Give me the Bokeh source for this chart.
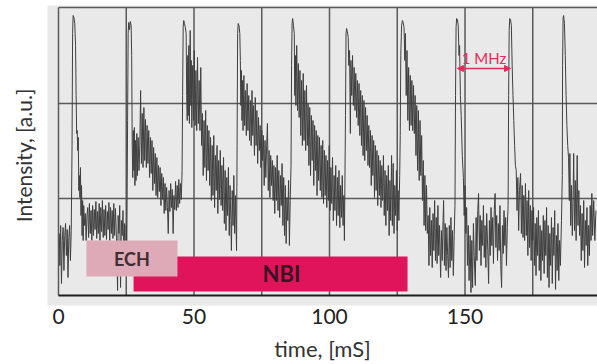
from bokeh.plotting import figure
from bokeh.models import Range1d, FixedTicker, Arrow, NormalHead
from bokeh.core.properties import value
from bokeh.embed import file_html
from bokeh.resources import INLINE

# ---- trace: (time [ms], intensity [a.u.]) per pulse ----
pulse1 = [(0.3,62),(0.5,30),(0.8,70),(1.1,12),(1.4,55),(1.7,68),(2.0,25),(2.3,60),(2.6,72),(2.9,40),
          (3.2,66),(3.5,18),(3.8,58),(4.1,70),(4.4,35),(4.7,65),(5.0,150),(5.2,262),(5.4,280),(5.7,278),
          (6.0,272),(6.3,250),(6.5,200),(6.7,162),(6.9,165),(7.1,145),(7.3,158),(7.5,105),(7.7,120),(7.9,98),
          (8.1,128),(8.3,80),(8.5,110),(8.7,60),(8.9,95),(9.1,55),(9.3,90),(9.6,70),(9.9,82),(10.2,55),
          (10.5,80),(10.8,88),(11.1,58),(11.4,92),(11.7,62),(12.0,85),(12.3,55),(12.6,90),(12.9,60),(13.2,86),
          (13.5,66),(13.8,94),(14.1,57),(14.4,84),(14.7,62),(15.0,92),(15.3,55),(15.6,88),(15.9,64),(16.2,95),
          (16.5,58),(16.8,86),(17.1,60),(17.4,90),(17.7,56),(18.0,84),(18.3,66),(18.6,93),(18.9,55),(19.2,88),
          (19.5,62),(19.8,85),(20.1,57),(20.4,92),(20.7,60),(21.0,87),(21.4,58),(21.8,5),(22.0,80),(22.3,62),
          (22.6,90),(22.9,8),(23.2,75),(23.5,60),(23.8,85),(24.1,30),(24.4,72),(24.7,20),(25.0,70),(25.2,45)]
pulse2 = [(25.5,175),(25.7,262),(25.9,273),(26.2,266),(26.5,274),(26.8,270),(27.0,240),(27.2,150),(27.4,118),(27.6,165),
          (27.8,125),(28.0,168),(28.2,110),(28.4,155),(28.6,115),(28.9,162),(29.1,120),(29.4,158),(29.7,125),(30.0,150),
          (30.3,205),(30.6,132),(30.9,182),(31.2,128),(31.5,188),(31.8,135),(32.1,176),(32.4,128),(32.7,170),(33.0,132),
          (33.3,165),(33.6,118),(33.9,158),(34.2,122),(34.5,155),(34.8,105),(35.1,148),(35.4,112),(35.7,142),(36.0,100),
          (36.3,138),(36.6,98),(36.9,130),(37.2,104),(37.5,128),(37.8,90),(38.1,122),(38.4,96),(38.7,118),(39.0,82),
          (39.3,112),(39.6,85),(39.9,108),(40.2,88),(40.5,62),(40.8,105),(41.1,84),(41.4,112),(41.7,88),(42.0,106),
          (42.3,62),(42.6,100),(42.9,86),(43.2,114),(43.5,85),(43.8,110),(44.1,88),(44.4,116),(44.7,92),(45.0,112),
          (45.3,96),(45.6,125)]
pulse3 = [(45.8,200),(46.0,268),(46.2,275),(46.5,272),(46.8,268),(47.1,262),(47.3,200),(47.5,175),(47.7,240),(47.9,180),
          (48.1,250),(48.3,172),(48.6,265),(48.8,190),(49.0,235),(49.2,168),(49.5,230),(49.8,175),(50.1,245),(50.4,170),
          (50.7,225),(51.0,165),(51.3,238),(51.6,172),(51.9,215),(52.2,165),(52.5,228),(52.8,150),(53.1,182),(53.4,120),
          (53.7,175),(54.0,128),(54.3,185),(54.6,115),(54.9,170),(55.2,125),(55.5,165),(55.8,110),(56.1,158),(56.4,95),
          (56.7,150),(57.0,100),(57.3,160),(57.6,88),(57.9,140),(58.2,105),(58.5,150),(58.8,82),(59.1,135),(59.4,96),
          (59.7,145),(60.0,90),(60.3,130),(60.6,85),(60.9,138),(61.2,72),(61.5,125),(61.8,65),(62.1,118),(62.4,80),
          (62.7,128),(63.0,60),(63.3,110),(63.6,75),(63.8,45),(64.1,105),(64.4,70),(64.7,120),(65.0,62),(65.3,100),
          (65.7,45)]
pulse4 = [(65.9,150),(66.1,262),(66.3,272),(66.6,270),(66.9,262),(67.1,235),(67.3,190),(67.5,225),(67.7,175),(67.9,215),
          (68.1,165),(68.4,220),(68.7,170),(69.0,205),(69.3,160),(69.6,212),(69.9,165),(70.2,200),(70.5,155),(70.8,195),
          (71.1,150),(71.4,205),(71.7,160),(72.0,190),(72.3,140),(72.6,198),(72.9,150),(73.2,185),(73.5,132),(73.8,178),
          (74.1,145),(74.4,170),(74.7,128),(75.0,165),(75.3,135),(75.6,160),(75.9,110),(76.2,155),(76.5,118),(76.8,150),
          (77.1,172),(77.4,105),(77.7,145),(78.0,98),(78.3,140),(78.6,110),(78.9,135),(79.2,95),(79.5,130),(79.8,82),
          (80.1,128),(80.4,95),(80.7,140),(81.0,85),(81.3,125),(81.6,78),(81.9,120),(82.2,90),(82.5,132),(82.8,70),
          (83.1,118),(83.4,60),(83.7,110),(84.0,52),(84.3,98),(84.6,75),(84.9,115),(85.2,50),(85.5,95),(85.8,130)]
pulse5 = [(86.0,230),(86.2,272),(86.4,277),(86.7,270),(87.0,262),(87.2,200),(87.4,240),(87.6,190),(87.9,250),(88.2,185),
          (88.5,232),(88.8,178),(89.1,225),(89.4,160),(89.7,215),(90.0,150),(90.3,222),(90.6,155),(90.9,205),(91.2,145),
          (91.5,210),(91.8,150),(92.1,192),(92.4,130),(92.7,188),(93.0,120),(93.3,180),(93.6,135),(93.9,175),(94.2,110),
          (94.5,170),(94.8,125),(95.1,165),(95.4,100),(95.7,160),(96.0,115),(96.3,158),(96.6,105),(96.9,150),(97.2,98),
          (97.5,155),(97.8,92),(98.1,145),(98.4,100),(98.7,140),(99.0,88),(99.3,135),(99.6,95),(99.9,150),(100.2,85),
          (100.5,128),(100.8,92),(101.1,138),(101.4,75),(101.7,120),(102.0,85),(102.3,130),(102.6,70),(102.9,118),(103.2,80),
          (103.5,125),(103.8,68),(104.1,110),(104.4,78),(104.7,120),(105.0,70),(105.3,100),(105.5,55)]
pulse6 = [(105.9,180),(106.1,262),(106.3,267),(106.6,264),(106.9,258),(107.1,230),(107.4,245),(107.7,162),(107.9,235),(108.2,200),
          (108.5,240),(108.8,190),(109.1,228),(109.4,185),(109.7,222),(110.0,178),(110.3,215),(110.6,170),(110.9,212),(111.2,160),
          (111.5,205),(111.8,150),(112.1,200),(112.4,140),(112.7,195),(113.0,135),(113.3,188),(113.6,145),(113.9,180),(114.2,130),
          (114.5,170),(114.8,128),(115.1,165),(115.4,110),(115.7,160),(116.0,120),(116.3,155),(116.6,98),(116.9,150),(117.2,105),
          (117.5,145),(117.8,90),(118.1,140),(118.4,100),(118.7,135),(119.0,88),(119.3,130),(119.6,95),(119.9,140),(120.2,80),
          (120.5,125),(120.8,70),(121.1,120),(121.4,85),(121.7,130),(122.0,60),(122.3,115),(122.6,75),(122.9,140),(123.2,70),
          (123.5,132),(123.8,62),(124.1,110),(124.4,80),(124.7,125),(125.0,65),(125.3,105),(125.6,75),(125.9,120),(126.1,160)]
pulse7 = [(126.3,240),(126.6,270),(126.9,275),(127.2,273),(127.5,268),(127.8,235),(128.0,262),(128.3,200),(128.6,245),(128.9,175),
          (129.2,228),(129.5,165),(129.8,220),(130.1,170),(130.4,215),(130.7,165),(131.0,210),(131.3,162),(131.6,200),(131.9,140),
          (132.2,190),(132.5,125),(132.8,185),(133.1,115),(133.4,175),(133.7,120),(134.0,160),(134.3,95),(134.6,135),(134.9,70),
          (135.2,120),(135.5,65),(135.8,110),(136.1,62),(136.4,80),(136.7,30),(137.0,88),(137.3,40),(137.6,75),(137.9,28),
          (138.2,82),(138.5,45),(138.8,95),(139.1,35),(139.4,78),(139.7,32),(140.0,90),(140.3,40),(140.6,70),(141.0,18),
          (141.3,65),(141.6,35),(141.9,75),(142.1,95),(142.4,30),(142.7,72),(143.0,25),(143.3,68),(143.6,40),(143.9,18),
          (144.2,70),(144.5,28),(144.8,78),(145.1,35),(145.4,65),(145.7,20),(146.0,60),(146.3,90)]
pulse8 = [(146.5,200),(146.7,268),(146.9,277),(147.2,276),(147.5,270),(147.8,240),(148.0,250),(148.3,200),(148.6,180),(149.0,140),
          (149.4,118),(149.7,80),(150.0,110),(150.3,62),(150.6,88),(150.9,30),(151.2,70),(151.5,15),(151.9,60),(152.2,3),
          (152.5,55),(152.8,8),(153.1,72),(153.4,40),(153.8,10),(154.1,78),(154.4,35),(154.7,85),(155.0,102),(155.3,45),
          (155.6,80),(155.9,30),(156.2,75),(156.5,50),(156.8,90),(157.1,38),(157.4,70),(157.7,28),(158.0,82),(158.4,45),
          (158.7,12),(159.0,75),(159.3,40),(159.6,88),(159.9,50),(160.2,78),(160.5,32),(160.8,85),(161.1,102),(161.4,48),
          (161.7,80),(162.0,35),(162.3,72),(162.6,45),(162.9,90),(163.2,30),(163.5,8),(163.8,70),(164.1,42),(164.4,85),
          (164.7,50),(165.0,78),(165.3,30),(165.6,68),(165.9,90)]
pulse9 = [(166.1,200),(166.3,265),(166.5,277),(166.8,276),(167.1,270),(167.4,230),(167.7,200),(168.0,175),(168.3,150),(168.6,130),
          (168.9,125),(169.2,85),(169.5,118),(169.8,65),(170.1,105),(170.5,122),(170.8,62),(171.1,110),(171.4,58),(171.7,100),
          (172.0,55),(172.3,112),(172.6,60),(172.9,95),(173.2,40),(173.5,105),(173.8,48),(174.1,90),(174.4,35),(174.7,85),
          (175.0,55),(175.3,88),(175.6,30),(175.9,72),(176.2,20),(176.5,78),(176.8,40),(177.1,85),(177.4,25),(177.7,70),
          (178.0,15),(178.3,65),(178.6,35),(178.9,80),(179.2,22),(179.5,75),(179.8,40),(180.1,88),(180.4,18),(180.7,70),
          (181.0,8),(181.3,62),(181.6,30),(181.9,78),(182.2,12),(182.5,68),(182.8,40),(183.1,85),(183.4,6),(183.7,60),
          (184.0,25),(184.3,72),(184.6,15),(184.9,55),(185.2,30),(185.6,75),(185.9,120)]
pulse10 = [(186.0,230),(186.2,278),(186.4,280),(186.7,272),(187.0,240),(187.3,200),(187.6,170),(187.9,150),(188.2,138),(188.5,95),
           (188.7,142),(189.0,70),(189.3,110),(189.6,60),(189.9,100),(190.1,142),(190.4,65),(190.7,115),(191.0,55),(191.4,140),
           (191.7,70),(192.0,105),(192.3,60),(192.6,90),(192.9,35),(193.2,82),(193.5,45),(193.8,95),(194.1,28),(194.4,75),
           (194.7,50),(195.0,88),(195.3,30),(195.6,70),(195.9,40),(196.2,90),(196.5,55),(196.8,102),(197.1,60),(197.5,95),
           (197.9,55),(198.3,85)]

x_ticks = [0, 50, 100, 150]
x_grid = [0, 25, 50, 75, 100, 125, 150, 175]
y_grid = [97, 192, 288]
y_base = 0
ech_period = (10.3, 43.9)
nbi_period = (27.7, 128.8)
mhz_period = (147.2, 166.8)

pulses = [pulse1, pulse2, pulse3, pulse4, pulse5, pulse6, pulse7, pulse8, pulse9, pulse10]
time_ms = [pt[0] for pl in pulses for pt in pl]
intensity = [pt[1] for pl in pulses for pt in pl]

FONT = "Lato"

p = figure(width=597, height=364, output_backend="svg", toolbar_location=None,
           x_range=Range1d(-4.06, 198.89), y_range=Range1d(-10, 290),
           min_border_left=47, min_border_right=0, min_border_top=5, min_border_bottom=59,
           background_fill_color="#e9e9e9", border_fill_color="white", outline_line_color=None)
p.grid.visible = False

# axes
xa = p.xaxis[0]
xa.ticker = FixedTicker(ticks=x_ticks, minor_ticks=[])
xa.axis_line_color = None
xa.major_tick_line_color = None
xa.minor_tick_line_color = None
xa.major_tick_out = 0
xa.major_tick_in = 0
xa.major_label_standoff = 3
xa.major_label_text_font = FONT
xa.major_label_text_font_size = "21px"
xa.major_label_text_color = "#222222"
xa.axis_label = "time, [mS]"
xa.axis_label_standoff = 8
xa.axis_label_text_font = FONT
xa.axis_label_text_font_size = "22px"
xa.axis_label_text_font_style = "normal"
xa.axis_label_text_color = "#333333"

ya = p.yaxis[0]
ya.ticker = FixedTicker(ticks=[], minor_ticks=[])
ya.axis_line_color = None
ya.major_tick_line_color = None
ya.minor_tick_line_color = None
ya.major_tick_out = 0
ya.major_tick_in = 0
ya.major_label_standoff = 0
ya.axis_label = "Intensity, [a.u.]"
ya.axis_label_standoff = 12
ya.axis_label_text_font = FONT
ya.axis_label_text_font_size = "21px"
ya.axis_label_text_font_style = "normal"
ya.axis_label_text_color = "#333333"

# oscilloscope grid
top = y_grid[-1]
p.segment(x0=x_grid, y0=[y_base] * len(x_grid), x1=x_grid, y1=[top] * len(x_grid),
          line_color="#5a5a5a", line_width=1.5)
p.segment(x0=[0] * len(y_grid), y0=y_grid, x1=[205] * len(y_grid), y1=y_grid,
          line_color="#5a5a5a", line_width=1.5)
p.segment(x0=[0], y0=[y_base], x1=[205], y1=[y_base], line_color="#1e1e1e", line_width=2)

# trace
p.line(time_ms, intensity, line_color="#3f3f3f", line_width=1.0)

# heating periods
p.quad(left=[nbi_period[0]], right=[nbi_period[1]], bottom=[4], top=[39],
       fill_color="#e0145a", line_color=None)
p.quad(left=[ech_period[0]], right=[ech_period[1]], bottom=[19], top=[55],
       fill_color="#deaab7", line_color=None)
p.text(x=[27.1], y=[37], text=["ECH"], text_align="center", text_baseline="middle",
       text_font=value(FONT), text_font_style="bold", text_font_size="18px", text_color="#3e2d33")
p.text(x=[82.3], y=[22], text=["NBI"], text_align="center", text_baseline="middle",
       text_font=value(FONT), text_font_style="bold", text_font_size="22px", text_color="#3a1422")

# 1 MHz marker
red = "#e8285a"
p.add_layout(Arrow(start=NormalHead(size=6, fill_color=red, line_color=red),
                   end=NormalHead(size=6, fill_color=red, line_color=red),
                   x_start=mhz_period[0], y_start=227, x_end=mhz_period[1], y_end=227,
                   line_color=red, line_width=1.5))
p.text(x=[(mhz_period[0] + mhz_period[1]) / 2], y=[238], text=["1 MHz"], text_align="center",
       text_baseline="middle", text_font=value(FONT), text_font_size="15px", text_color=red)

open("out.html", "w").write(file_html(p, INLINE))
